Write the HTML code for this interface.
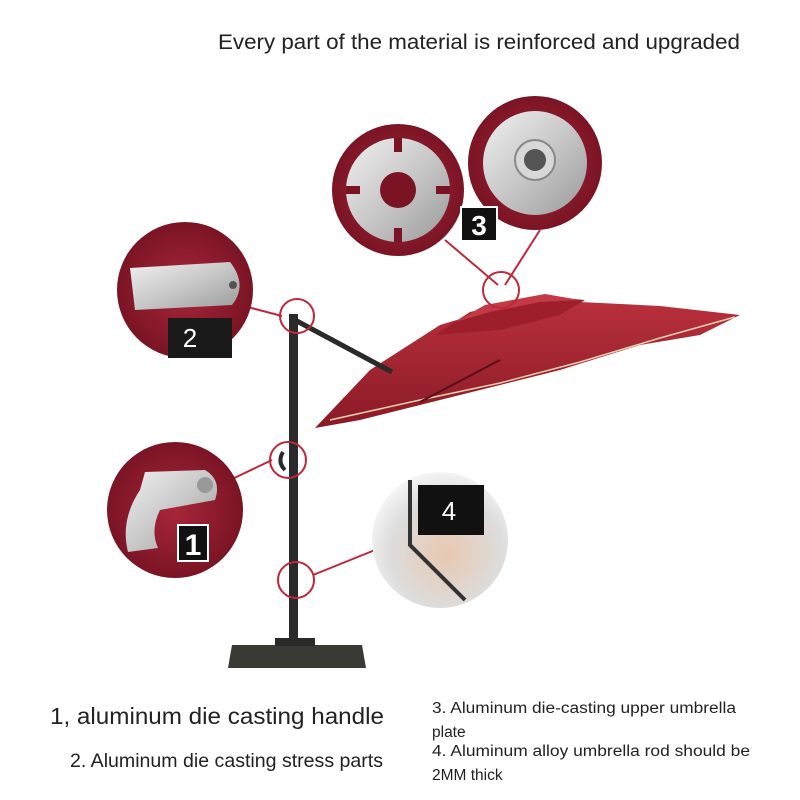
<!DOCTYPE html>
<html><head><meta charset="utf-8"><style>
html,body{margin:0;padding:0;background:#fff}
svg{display:block}
text{font-family:"Liberation Sans",sans-serif}
</style></head><body>
<svg width="800" height="800" viewBox="0 0 800 800" xmlns="http://www.w3.org/2000/svg">
<defs>
<radialGradient id="red" cx="50%" cy="50%" r="50%"><stop offset="0" stop-color="#a8263a"/><stop offset="1" stop-color="#7a1424"/></radialGradient>
<linearGradient id="silver" x1="0" y1="0" x2="1" y2="1"><stop offset="0" stop-color="#f0f0f0"/><stop offset="0.5" stop-color="#c8c8c8"/><stop offset="1" stop-color="#9a9a9a"/></linearGradient>
<linearGradient id="canopy" x1="0" y1="0" x2="0" y2="1"><stop offset="0" stop-color="#b8303c"/><stop offset="1" stop-color="#8a1a26"/></linearGradient>
<radialGradient id="beige" cx="55%" cy="60%" r="60%"><stop offset="0" stop-color="#e8c8b0"/><stop offset="0.7" stop-color="#ddd"/><stop offset="1" stop-color="#f4f4f4"/></radialGradient>
</defs>
<rect width="800" height="800" fill="#fff"/>
<text x="218" y="49" font-size="21" fill="#222" textLength="522" lengthAdjust="spacingAndGlyphs">Every part of the material is reinforced and upgraded</text>

<line x1="445" y1="240" x2="498" y2="285" stroke="#c0283a" stroke-width="2"/>
<line x1="505" y1="285" x2="540" y2="230" stroke="#c0283a" stroke-width="2"/>
<line x1="240" y1="305" x2="282" y2="316" stroke="#c0283a" stroke-width="2"/>
<line x1="230" y1="480" x2="272" y2="460" stroke="#c0283a" stroke-width="2"/>
<line x1="313" y1="575" x2="380" y2="548" stroke="#c0283a" stroke-width="2"/>

<polygon points="315,428 370,370 440,325 490,310 580,302 660,306 740,315 700,335 640,345 560,370 480,390 420,405 360,420" fill="url(#canopy)"/>
<polygon points="435,335 470,312 540,296 585,300 560,315 500,330" fill="#9e1e2c"/>
<polygon points="455,322 485,305 545,294 580,300 540,302 490,312" fill="#c23a46"/>
<path d="M330,420 L420,400 L500,383 L580,362 L660,338 L735,317" stroke="#e8d0b0" stroke-width="1.5" fill="none"/>
<line x1="420" y1="402" x2="500" y2="360" stroke="#5a0e18" stroke-width="2"/>

<line x1="295" y1="320" x2="392" y2="372" stroke="#2a2a2a" stroke-width="5"/>
<rect x="289" y="314" width="9" height="328" fill="#2a2a2a"/>
<path d="M283,452 q-6,10 2,18" stroke="#2a2a2a" stroke-width="4" fill="none"/>
<polygon points="232,645 362,645 366,668 228,668" fill="#3a3a34"/>
<rect x="275" y="638" width="40" height="8" fill="#2a2a2a"/>

<circle cx="297" cy="316" r="17" fill="none" stroke="#c0283a" stroke-width="2"/>
<circle cx="288" cy="460" r="18" fill="none" stroke="#c0283a" stroke-width="2"/>
<circle cx="296" cy="580" r="18" fill="none" stroke="#c0283a" stroke-width="2"/>
<circle cx="501" cy="290" r="18" fill="none" stroke="#c0283a" stroke-width="2"/>

<circle cx="398" cy="190" r="66" fill="url(#red)"/>
<circle cx="398" cy="190" r="52" fill="url(#silver)"/>
<circle cx="398" cy="190" r="18" fill="#7a1424"/>
<g fill="#7a1424">
<rect x="394" y="138" width="8" height="14"/><rect x="394" y="228" width="8" height="14"/>
<rect x="346" y="186" width="14" height="8"/><rect x="436" y="186" width="14" height="8"/>
</g>
<circle cx="535" cy="163" r="67" fill="url(#red)"/>
<circle cx="535" cy="163" r="52" fill="url(#silver)"/>
<circle cx="535" cy="160" r="20" fill="#d8d8d8" stroke="#888" stroke-width="2"/>
<circle cx="535" cy="160" r="11" fill="#555"/>
<rect x="461" y="207" width="36" height="34" fill="#111" stroke="#fff" stroke-width="2"/>
<text x="479" y="235" font-size="28" font-weight="bold" fill="#fff" text-anchor="middle">3</text>

<circle cx="185" cy="290" r="68" fill="url(#red)"/>
<path d="M130,268 L230,262 Q248,285 232,305 L135,310 Z" fill="url(#silver)"/>
<circle cx="233" cy="285" r="4" fill="#555"/>
<rect x="168" y="318" width="64" height="40" fill="#1a1a1a"/>
<text x="190" y="347" font-size="26" fill="#fff" text-anchor="middle">2</text>

<circle cx="175" cy="510" r="68" fill="url(#red)"/>
<path d="M145,472 L205,470 Q222,480 215,500 L160,510 Q150,530 158,548 L128,552 Q120,520 140,490 Z" fill="url(#silver)"/>
<circle cx="205" cy="485" r="8" fill="#999"/>
<rect x="178" y="525" width="30" height="36" fill="#111" stroke="#fff" stroke-width="2"/>
<text x="193" y="555" font-size="30" font-weight="bold" fill="#fff" text-anchor="middle">1</text>

<circle cx="440" cy="540" r="68" fill="url(#beige)"/>
<path d="M410,480 L410,545 L465,600" stroke="#333" stroke-width="4" fill="none"/>
<rect x="418" y="485" width="66" height="50" fill="#111"/>
<text x="449" y="520" font-size="26" fill="#fff" text-anchor="middle">4</text>

<text x="50" y="724" font-size="23" fill="#222" textLength="334" lengthAdjust="spacingAndGlyphs">1, aluminum die casting handle</text>
<text x="70" y="767" font-size="19.5" fill="#222" textLength="313" lengthAdjust="spacingAndGlyphs">2. Aluminum die casting stress parts</text>
<text x="432" y="713" font-size="15.5" fill="#222" textLength="304" lengthAdjust="spacingAndGlyphs">3. Aluminum die-casting upper umbrella</text>
<text x="432" y="737" font-size="15.5" fill="#222">plate</text>
<text x="432" y="756" font-size="15.5" fill="#222" textLength="318" lengthAdjust="spacingAndGlyphs">4. Aluminum alloy umbrella rod should be</text>
<text x="432" y="780" font-size="15.5" fill="#222">2MM thick</text>
</svg>
</body></html>
